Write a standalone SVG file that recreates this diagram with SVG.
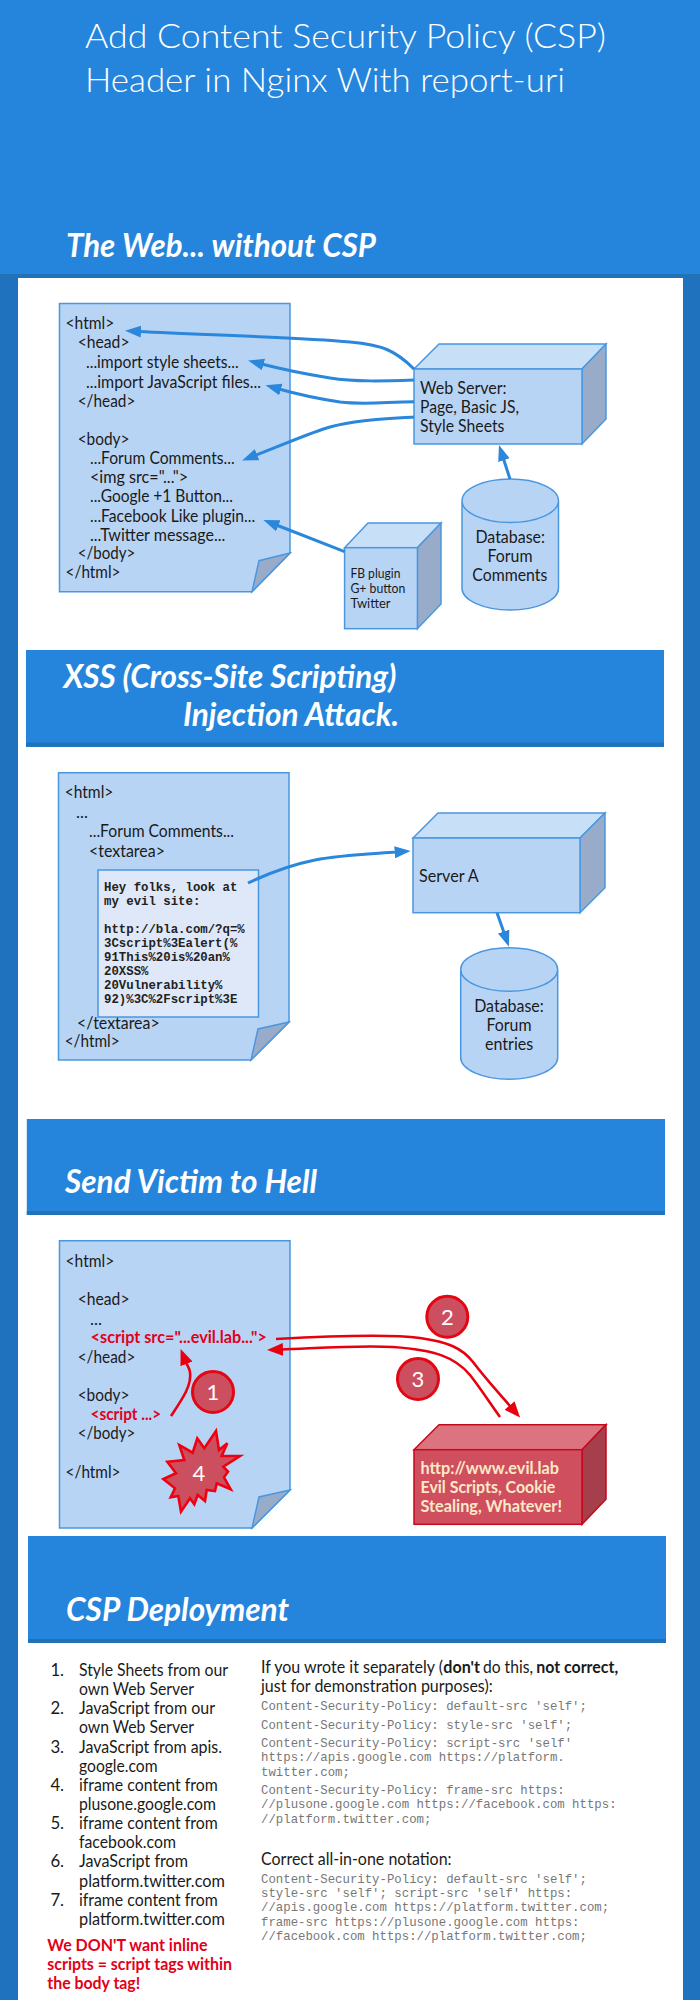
<svg xmlns="http://www.w3.org/2000/svg" width="700" height="2000" viewBox="0 0 700 2000">
<style>
text{font-family:Lato,"Liberation Sans",sans-serif;font-size:16.8px;fill:#1a1a1a}
.title{font-size:34px;font-weight:300;fill:#fff}
.h{font-size:33px;font-weight:700;font-style:italic;fill:#fff}
.mono{font-family:"Liberation Mono",monospace;font-size:12.35px;fill:#777}
.evil{font-family:"Liberation Mono",monospace;font-size:12.35px;font-weight:700;fill:#222}
.red{fill:#e2001a;font-weight:700}
.redb{fill:#e2001a;font-weight:700}
.b{font-weight:700}
.small{font-size:14px}
.num{font-size:22px;fill:#fff;text-anchor:middle}
.cream{fill:#fbe9c8;font-weight:700}
.main{fill:#b8d4f5;stroke:#4a97e0;stroke-width:1.5}
.top{fill:#c8dff8;stroke:#4a97e0;stroke-width:1.5}
.side{fill:#98acc9;stroke:#4a97e0;stroke-width:1.5}
.rmain{fill:#cf4f5f;stroke:#c5091c;stroke-width:1.5}
.rtop{fill:#dc7480;stroke:#c5091c;stroke-width:1.5}
.rside{fill:#a63f4c;stroke:#c5091c;stroke-width:1.5}
.badge{fill:#cc4f60;stroke:#e30613;stroke-width:3}
.band{fill:#2585dc}
.dark{fill:#2272b8}
.blue{fill:none;stroke:#2a87dc;stroke-width:3;marker-end:url(#ab)}
.rarrow{fill:none;stroke:#e8000f;stroke-width:2.6;marker-end:url(#ar)}
</style>
<defs>
<marker id="ab" markerUnits="userSpaceOnUse" markerWidth="17" markerHeight="13" refX="2" refY="6" orient="auto"><path d="M0 0L16 6L0 12z" fill="#2a87dc"/></marker>
<marker id="ar" markerUnits="userSpaceOnUse" markerWidth="17" markerHeight="14" refX="2" refY="6.5" orient="auto"><path d="M0 0L16 6.5L0 13z" fill="#e8000f"/></marker>
</defs>

<rect width="700" height="2000" fill="#1f72bd"/>
<rect x="18" y="278" width="665" height="1722" fill="#fff"/>
<rect width="700" height="274" class="band"/>
<rect y="274" width="700" height="4" class="dark"/>

<g id="title">
<text class="title" x="85" y="48" textLength="521" lengthAdjust="spacingAndGlyphs">Add Content Security Policy (CSP)</text>
<text class="title" x="85" y="92" textLength="480" lengthAdjust="spacingAndGlyphs">Header in Nginx With report-uri</text>
<text class="h" x="66" y="257" textLength="310" lengthAdjust="spacingAndGlyphs">The Web... without CSP</text>
</g>

<g id="doc-web">
<path class="main" d="M59.5 303.5H290V553L252 591.7H59.5z"/>
<path class="side" d="M290 553L259 560.7L252 591.7z"/>
<text x="65.6" y="329" textLength="48.7" lengthAdjust="spacingAndGlyphs">&lt;html&gt;</text>
<text x="77.7" y="348" textLength="51.8" lengthAdjust="spacingAndGlyphs">&lt;head&gt;</text>
<text x="86" y="368" textLength="152.7" lengthAdjust="spacingAndGlyphs">...import style sheets...</text>
<text x="86" y="388" textLength="175" lengthAdjust="spacingAndGlyphs">...import JavaScript files...</text>
<text x="77.7" y="407" textLength="57.6" lengthAdjust="spacingAndGlyphs">&lt;/head&gt;</text>
<text x="77.7" y="445" textLength="51.8" lengthAdjust="spacingAndGlyphs">&lt;body&gt;</text>
<text x="90" y="464" textLength="144.6" lengthAdjust="spacingAndGlyphs">...Forum Comments...</text>
<text x="90" y="483" textLength="98.2" lengthAdjust="spacingAndGlyphs">&lt;img src="..."&gt;</text>
<text x="90" y="502" textLength="142.9" lengthAdjust="spacingAndGlyphs">...Google +1 Button...</text>
<text x="90" y="522" textLength="165.2" lengthAdjust="spacingAndGlyphs">...Facebook Like plugin...</text>
<text x="90" y="541" textLength="135.3" lengthAdjust="spacingAndGlyphs">...Twitter message...</text>
<text x="77.7" y="559" textLength="57.6" lengthAdjust="spacingAndGlyphs">&lt;/body&gt;</text>
<text x="65.6" y="578" textLength="54.9" lengthAdjust="spacingAndGlyphs">&lt;/html&gt;</text>
</g>
<g id="web-server">
<path class="top" d="M414 369L439 344H606L582 369z"/>
<path class="side" d="M582 369L606 344V419L582 444z"/>
<rect class="main" x="414" y="369" width="168" height="75"/>
<text x="420" y="394" textLength="86.6" lengthAdjust="spacingAndGlyphs">Web Server:</text>
<text x="420" y="413" textLength="99" lengthAdjust="spacingAndGlyphs">Page, Basic JS,</text>
<text x="420" y="432" textLength="84.4" lengthAdjust="spacingAndGlyphs">Style Sheets</text>
</g>
<g id="db-web">
<path class="main" d="M462 500.7V588.3A48.2 21.7 0 0 0 558.5 588.3V500.7A48.2 21.7 0 0 0 462 500.7A48.2 21.7 0 0 0 558.5 500.7"/>
<text x="475.4" y="543" textLength="69.6" lengthAdjust="spacingAndGlyphs">Database:</text>
<text x="487.5" y="562" textLength="45" lengthAdjust="spacingAndGlyphs">Forum</text>
<text x="472.3" y="581" textLength="75" lengthAdjust="spacingAndGlyphs">Comments</text>
</g>
<g id="plugins">
<path class="top" d="M344.6 547.7L368 523H441L417.4 547.7z"/>
<path class="side" d="M417.4 547.7L441 523V604L417.4 628.7z"/>
<rect class="main" x="344.6" y="547.7" width="72.8" height="81"/>
<text class="small" x="350.4" y="578" textLength="50" lengthAdjust="spacingAndGlyphs">FB plugin</text>
<text class="small" x="350.4" y="593" textLength="55" lengthAdjust="spacingAndGlyphs">G+ button</text>
<text class="small" x="350.4" y="608" textLength="40.2" lengthAdjust="spacingAndGlyphs">Twitter</text>
</g>

<g id="banner-xss">
<rect x="26" y="650" width="638" height="97" class="band"/>
<rect x="26" y="742.7" width="638" height="4" class="dark"/>
<text class="h" x="63.4" y="687.7" textLength="333" lengthAdjust="spacingAndGlyphs">XSS (Cross-Site Scripting)</text>
<text class="h" x="183" y="726" textLength="216" lengthAdjust="spacingAndGlyphs">Injection Attack.</text>
</g>
<g id="doc-xss">
<path class="main" d="M58.5 772.7H289V1022L251 1060H58.5z"/>
<path class="side" d="M289 1022L258 1029L251 1060z"/>
<text x="64.7" y="798" textLength="48.7" lengthAdjust="spacingAndGlyphs">&lt;html&gt;</text>
<text x="76" y="818">...</text>
<text x="89" y="837" textLength="145" lengthAdjust="spacingAndGlyphs">...Forum Comments...</text>
<text x="89" y="857" textLength="75.9" lengthAdjust="spacingAndGlyphs">&lt;textarea&gt;</text>
<text x="77" y="1029" textLength="82.6" lengthAdjust="spacingAndGlyphs">&lt;/textarea&gt;</text>
<text x="64.7" y="1047" textLength="54.9" lengthAdjust="spacingAndGlyphs">&lt;/html&gt;</text>
</g>
<g id="textarea">
<rect x="98" y="870" width="160.5" height="147" fill="#dee8f9" stroke="#4a97e0" stroke-width="1.5"/>
<text class="evil" x="104" y="890.7">Hey folks, look at</text>
<text class="evil" x="104" y="904.7">my evil site:</text>
<text class="evil" x="104" y="932.7">http://bla.com/?q=%</text>
<text class="evil" x="104" y="946.7">3Cscript%3Ealert(%</text>
<text class="evil" x="104" y="960.7">91This%20is%20an%</text>
<text class="evil" x="104" y="974.7">20XSS%</text>
<text class="evil" x="104" y="988.7">20Vulnerability%</text>
<text class="evil" x="104" y="1002.7">92)%3C%2Fscript%3E</text>
</g>
<g id="server-a">
<path class="top" d="M413 838L438 813H605L580 838z"/>
<path class="side" d="M580 838L605 813V887.7L580 912.7z"/>
<rect class="main" x="413" y="838" width="167" height="74.7"/>
<text x="419" y="881.7" textLength="59.8" lengthAdjust="spacingAndGlyphs">Server A</text>
</g>
<g id="db-xss">
<path class="main" d="M460.7 969.5V1057.5A48.5 21.8 0 0 0 557.7 1057.5V969.5A48.5 21.8 0 0 0 460.7 969.5A48.5 21.8 0 0 0 557.7 969.5"/>
<text x="474.2" y="1011.7" textLength="69.6" lengthAdjust="spacingAndGlyphs">Database:</text>
<text x="486.5" y="1030.7" textLength="45" lengthAdjust="spacingAndGlyphs">Forum</text>
<text x="485" y="1050" textLength="48.2" lengthAdjust="spacingAndGlyphs">entries</text>
</g>

<g id="banner-hell">
<rect x="26.8" y="1119" width="638.2" height="96" class="band"/>
<rect x="26.8" y="1211" width="638.2" height="4" class="dark"/>
<text class="h" x="65" y="1193" textLength="252" lengthAdjust="spacingAndGlyphs">Send Victim to Hell</text>
</g>
<g id="doc-hell">
<path class="main" d="M59.5 1240.7H290V1490L252 1528H59.5z"/>
<path class="side" d="M290 1490L259 1497L252 1528z"/>
<text x="65.6" y="1266.7" textLength="48.7" lengthAdjust="spacingAndGlyphs">&lt;html&gt;</text>
<text x="77.7" y="1305" textLength="51.8" lengthAdjust="spacingAndGlyphs">&lt;head&gt;</text>
<text x="90" y="1325">...</text>
<text class="red" x="90.6" y="1343" textLength="176.3" lengthAdjust="spacingAndGlyphs">&lt;script src="...evil.lab..."&gt;</text>
<text x="77.7" y="1362.7" textLength="57.6" lengthAdjust="spacingAndGlyphs">&lt;/head&gt;</text>
<text x="77.7" y="1400.7" textLength="51.8" lengthAdjust="spacingAndGlyphs">&lt;body&gt;</text>
<text class="red" x="90.6" y="1420" textLength="70.5" lengthAdjust="spacingAndGlyphs">&lt;script ...&gt;</text>
<text x="77.7" y="1439" textLength="57.6" lengthAdjust="spacingAndGlyphs">&lt;/body&gt;</text>
<text x="65.6" y="1477.7" textLength="54.9" lengthAdjust="spacingAndGlyphs">&lt;/html&gt;</text>
</g>
<g id="evil-server">
<path class="rtop" d="M414 1449.7L439 1424.7H606L582 1449.7z"/>
<path class="rside" d="M582 1449.7L606 1424.7V1499.3L582 1524.3z"/>
<rect class="rmain" x="414" y="1449.7" width="168" height="74.6"/>
<text class="cream" x="420.5" y="1474" textLength="138.4" lengthAdjust="spacingAndGlyphs">http://www.evil.lab</text>
<text class="cream" x="420.5" y="1493" textLength="134.8" lengthAdjust="spacingAndGlyphs">Evil Scripts, Cookie</text>
<text class="cream" x="420.5" y="1512" textLength="141.5" lengthAdjust="spacingAndGlyphs">Stealing, Whatever!</text>
</g>

<g id="connectors">
<path class="blue" d="M414 369C395 350 382 345 350 342C300 337 200 335 139 331.5"/>
<path class="blue" d="M414 380C385 381 355 382 330 378C305 374 285 370 261.6 364"/>
<path class="blue" d="M414 401.7C385 402 365 405 340 402C320 399 300 395 279 389"/>
<path class="blue" d="M414 417C385 419 355 420 330 427C312 432 285 444 255.2 455.4"/>
<path class="blue" d="M344.6 551.7L276.4 525"/>
<path class="blue" d="M510 479L503.3 458.3"/>
<path class="blue" d="M248 883C265 875 290 865 315 860C340 855 370 854 396.7 852"/>
<path class="blue" d="M497 912.7L504.3 933.5"/>
<path class="rarrow" d="M276 1339C330 1336 390 1334 420 1338C448 1342 462 1348 473 1362C485 1378 498 1392 510.9 1407"/>
<path class="rarrow" d="M500 1417C488 1400 478 1385 470 1375C455 1357 435 1350 393 1347C360 1345 320 1348 281 1349.5"/>
<path class="rarrow" d="M171 1416C183 1398 192 1385 190 1372C189.5 1368 187 1365 185.8 1362"/>
</g>

<g id="badge-1"><circle class="badge" cx="213" cy="1392" r="20.5"/><text class="num" x="213" y="1399.5">1</text></g>
<g id="badge-2"><circle class="badge" cx="447.3" cy="1316.7" r="20.5"/><text class="num" x="447.3" y="1324.5">2</text></g>
<g id="badge-3"><circle class="badge" cx="418" cy="1379" r="20.5"/><text class="num" x="418" y="1387">3</text></g>
<g id="badge-4">
<polygon fill="#cc4f60" stroke="#f0000f" stroke-width="2.6" points="216,1431 219,1450 227.3,1443.3 221.7,1456 240,1456 223.3,1466.7 228,1471.7 224,1477.3 230.7,1489.3 216.7,1483.3 215,1491 206.7,1490 205,1501 197.7,1495 194.3,1504.3 190,1498.3 181,1511.7 178.3,1496 170.7,1497.3 175,1488.3 163.3,1479 176,1473.3 167.3,1461.7 184.3,1460 179.3,1445 192.7,1452.7 197.3,1438.3 204.3,1448.3"/>
<text class="num" x="199" y="1481">4</text>
</g>

<g id="banner-csp">
<rect x="28" y="1536" width="638" height="107" class="band"/>
<rect x="28" y="1639" width="638" height="4" class="dark"/>
<text class="h" x="66" y="1621" textLength="223" lengthAdjust="spacingAndGlyphs">CSP Deployment</text>
</g>
<g id="source-list">
<text x="50.4" y="1676">1.</text><text x="79" y="1676" textLength="149" lengthAdjust="spacingAndGlyphs">Style Sheets from our</text>
<text x="79" y="1695" textLength="115" lengthAdjust="spacingAndGlyphs">own Web Server</text>
<text x="50.4" y="1714.3">2.</text><text x="79" y="1714.3" textLength="136" lengthAdjust="spacingAndGlyphs">JavaScript from our</text>
<text x="79" y="1733.3" textLength="115" lengthAdjust="spacingAndGlyphs">own Web Server</text>
<text x="50.4" y="1753.3">3.</text><text x="79" y="1753.3" textLength="143" lengthAdjust="spacingAndGlyphs">JavaScript from apis.</text>
<text x="79" y="1772.3" textLength="78.6" lengthAdjust="spacingAndGlyphs">google.com</text>
<text x="50.4" y="1791">4.</text><text x="79" y="1791" textLength="138.8" lengthAdjust="spacingAndGlyphs">iframe content from</text>
<text x="79" y="1810.3" textLength="137" lengthAdjust="spacingAndGlyphs">plusone.google.com</text>
<text x="50.4" y="1829">5.</text><text x="79" y="1829" textLength="138.8" lengthAdjust="spacingAndGlyphs">iframe content from</text>
<text x="79" y="1848.3" textLength="96.9" lengthAdjust="spacingAndGlyphs">facebook.com</text>
<text x="50.4" y="1867.3">6.</text><text x="79" y="1867.3" textLength="109" lengthAdjust="spacingAndGlyphs">JavaScript from</text>
<text x="79" y="1887" textLength="146" lengthAdjust="spacingAndGlyphs">platform.twitter.com</text>
<text x="50.4" y="1906">7.</text><text x="79" y="1906" textLength="138.8" lengthAdjust="spacingAndGlyphs">iframe content from</text>
<text x="79" y="1925.3" textLength="146" lengthAdjust="spacingAndGlyphs">platform.twitter.com</text>
<text class="redb" x="47.3" y="1951" textLength="160.3" lengthAdjust="spacingAndGlyphs">We DON'T want inline</text>
<text class="redb" x="47.3" y="1970" textLength="184.8" lengthAdjust="spacingAndGlyphs">scripts = script tags within</text>
<text class="redb" x="47.3" y="1989" textLength="92.9" lengthAdjust="spacingAndGlyphs">the body tag!</text>
</g>
<g id="policies">
<text x="261" y="1673.3" textLength="182" lengthAdjust="spacingAndGlyphs">If you wrote it separately (</text>
<text class="b" x="443.3" y="1673.3" textLength="36.6" lengthAdjust="spacingAndGlyphs">don't</text>
<text x="483" y="1673.3" textLength="50" lengthAdjust="spacingAndGlyphs">do this,</text>
<text class="b" x="536.2" y="1673.3" textLength="82" lengthAdjust="spacingAndGlyphs">not correct,</text>
<text x="261" y="1692.3" textLength="231.7" lengthAdjust="spacingAndGlyphs">just for demonstration purposes):</text>
<text class="mono" x="261" y="1710">Content-Security-Policy: default-src 'self';</text>
<text class="mono" x="261" y="1729">Content-Security-Policy: style-src 'self';</text>
<text class="mono" x="261" y="1747">Content-Security-Policy: script-src 'self'</text>
<text class="mono" x="261" y="1761.3">https://apis.google.com https://platform.</text>
<text class="mono" x="261" y="1776">twitter.com;</text>
<text class="mono" x="261" y="1794">Content-Security-Policy: frame-src https:</text>
<text class="mono" x="261" y="1808">//plusone.google.com https://facebook.com https:</text>
<text class="mono" x="261" y="1823">//platform.twitter.com;</text>
<text x="261" y="1865" textLength="190.6" lengthAdjust="spacingAndGlyphs">Correct all-in-one notation:</text>
<text class="mono" x="261" y="1883">Content-Security-Policy: default-src 'self';</text>
<text class="mono" x="261" y="1897">style-src 'self'; script-src 'self' https:</text>
<text class="mono" x="261" y="1911">//apis.google.com https://platform.twitter.com;</text>
<text class="mono" x="261" y="1926">frame-src https://plusone.google.com https:</text>
<text class="mono" x="261" y="1940">//facebook.com https://platform.twitter.com;</text>
</g>
</svg>
